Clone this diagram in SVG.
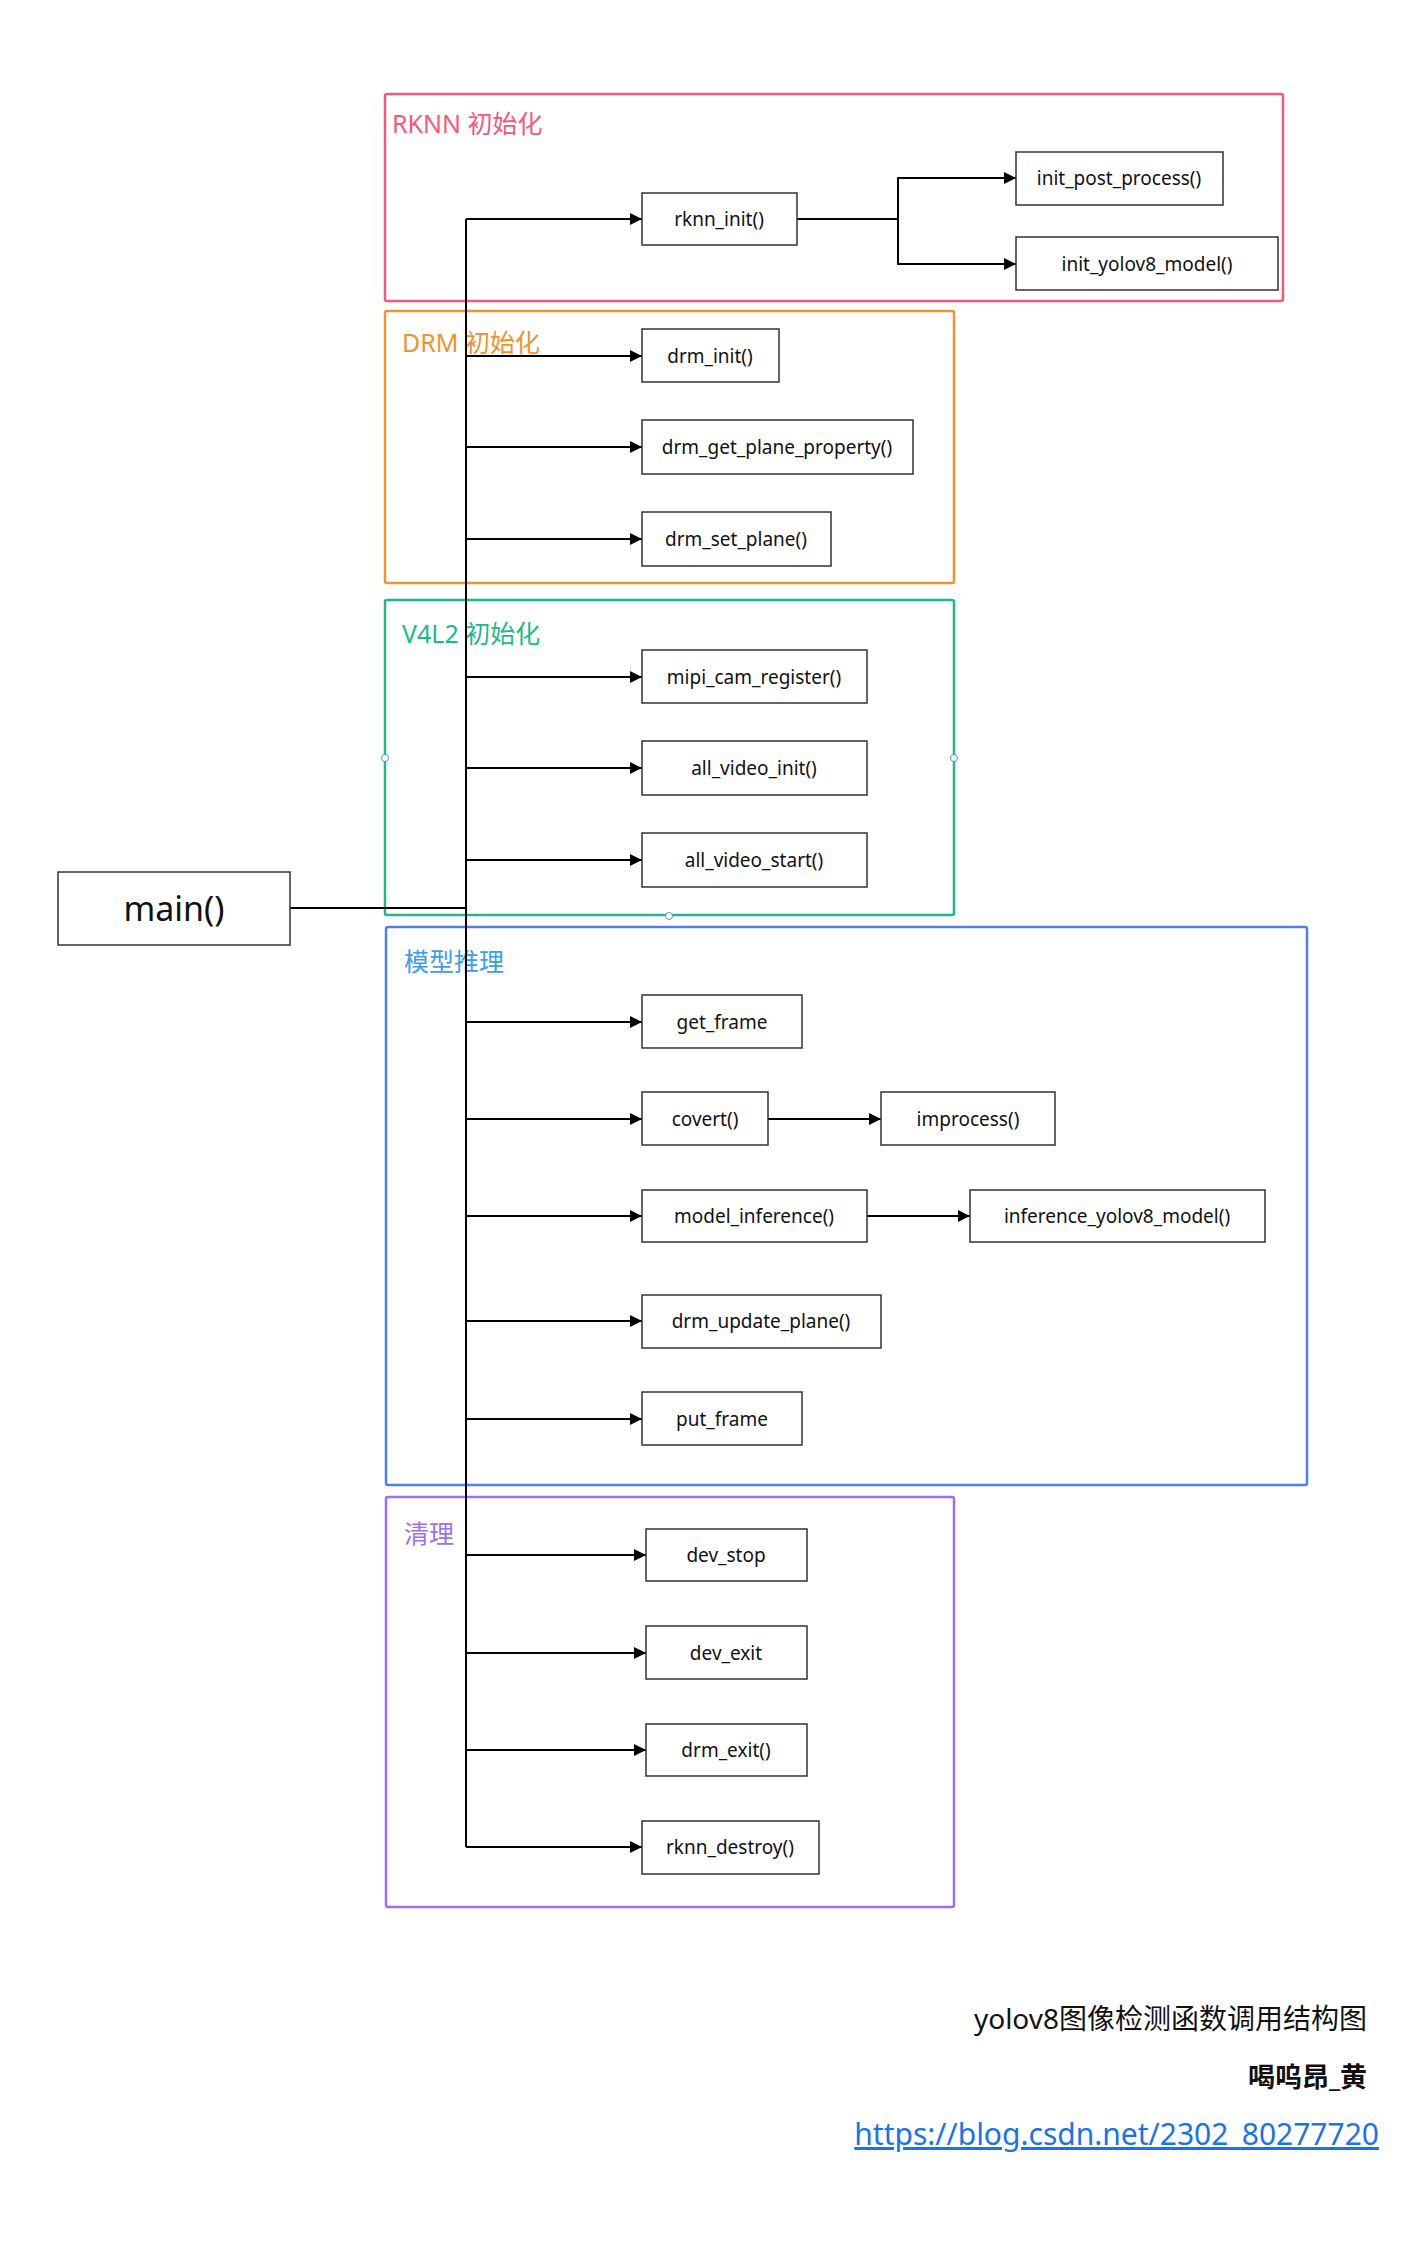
<svg xmlns="http://www.w3.org/2000/svg" width="1419" height="2265" viewBox="0 0 1419 2265">
<defs>
<marker id="ar" viewBox="0 0 10 10" refX="10" refY="5" markerWidth="6" markerHeight="6" orient="auto"><path d="M0,0L10,5L0,10z" fill="#000"/></marker>
<style>
.n rect{fill:#fff;stroke:#333;stroke-width:1.5}
.n text{font-family:"Noto Sans","Open Sans",sans-serif;font-size:19px;text-anchor:middle;dominant-baseline:central;fill:#111}
.g{fill:none;stroke-width:2.5}
.gl{font-family:"Noto Sans","Noto Sans CJK SC",sans-serif;font-size:25px}
.c{fill:none;stroke:#000;stroke-width:2}
.c .a{marker-end:url(#ar)}
</style>
</defs>
<rect width="1419" height="2265" fill="#fff"/>
<g id="groups">
<rect class="g" x="385" y="94" width="898" height="207" rx="2" stroke="#f5587b"/>
<text class="gl" x="392" y="133" fill="#f5587b">RKNN 初始化</text>
<rect class="g" x="385" y="311" width="569" height="272" rx="2" stroke="#f0922e"/>
<text class="gl" x="402" y="352" fill="#f0922e">DRM 初始化</text>
<rect class="g" x="385" y="600" width="569" height="315" rx="2" stroke="#1db98b"/>
<text class="gl" x="402" y="643" fill="#1db98b">V4L2 初始化</text>
<circle cx="385" cy="758" r="3.5" fill="#fff" stroke="#4a90f0"/>
<circle cx="954" cy="758" r="3.5" fill="#fff" stroke="#4a90f0"/>
<circle cx="669" cy="916" r="3.5" fill="#fff" stroke="#4a90f0"/>
<rect class="g" x="386" y="927" width="921" height="558" rx="2" stroke="#4e7ff0"/>
<text class="gl" x="404" y="971" fill="#3d9cf0">模型推理</text>
<rect class="g" x="386" y="1497" width="568" height="410" rx="2" stroke="#9c70f0"/>
<text class="gl" x="404" y="1543" fill="#9c70f0">清理</text>
</g>
<g id="connectors" class="c">
<path d="M290 908H466"/>
<path d="M466 219V1847"/>
<path class="a" d="M466 219H642"/>
<path d="M797 219H898"/>
<path class="a" d="M898 219V178H1016"/>
<path class="a" d="M898 219V264H1016"/>
<path class="a" d="M466 356H642"/>
<path class="a" d="M466 447H642"/>
<path class="a" d="M466 539H642"/>
<path class="a" d="M466 677H642"/>
<path class="a" d="M466 768H642"/>
<path class="a" d="M466 860H642"/>
<path class="a" d="M466 1022H642"/>
<path class="a" d="M466 1119H642"/>
<path class="a" d="M768 1119H881"/>
<path class="a" d="M466 1216H642"/>
<path class="a" d="M867 1216H970"/>
<path class="a" d="M466 1321H642"/>
<path class="a" d="M466 1419H642"/>
<path class="a" d="M466 1555H646"/>
<path class="a" d="M466 1653H646"/>
<path class="a" d="M466 1750H646"/>
<path class="a" d="M466 1847H642"/>
</g>
<g id="main" class="n"><rect x="58" y="872" width="232" height="73"/><text x="174" y="908" style="font-size:34px">main()</text></g>
<g id="rknn_init" class="n"><rect x="642" y="193" width="155" height="52"/><text x="719" y="219">rknn_init()</text></g>
<g id="init_post_process" class="n"><rect x="1016" y="152" width="207" height="53"/><text x="1119" y="178">init_post_process()</text></g>
<g id="init_yolov8_model" class="n"><rect x="1016" y="237" width="262" height="53"/><text x="1147" y="264">init_yolov8_model()</text></g>
<g id="drm_init" class="n"><rect x="642" y="329" width="137" height="53"/><text x="710" y="356">drm_init()</text></g>
<g id="drm_get_plane_property" class="n"><rect x="642" y="420" width="271" height="54"/><text x="777" y="447">drm_get_plane_property()</text></g>
<g id="drm_set_plane" class="n"><rect x="642" y="512" width="189" height="54"/><text x="736" y="539">drm_set_plane()</text></g>
<g id="mipi_cam_register" class="n"><rect x="642" y="650" width="225" height="53"/><text x="754" y="677">mipi_cam_register()</text></g>
<g id="all_video_init" class="n"><rect x="642" y="741" width="225" height="54"/><text x="754" y="768">all_video_init()</text></g>
<g id="all_video_start" class="n"><rect x="642" y="833" width="225" height="54"/><text x="754" y="860">all_video_start()</text></g>
<g id="get_frame" class="n"><rect x="642" y="995" width="160" height="53"/><text x="722" y="1022">get_frame</text></g>
<g id="covert" class="n"><rect x="642" y="1092" width="126" height="53"/><text x="705" y="1119">covert()</text></g>
<g id="improcess" class="n"><rect x="881" y="1092" width="174" height="53"/><text x="968" y="1119">improcess()</text></g>
<g id="model_inference" class="n"><rect x="642" y="1190" width="225" height="52"/><text x="754" y="1216">model_inference()</text></g>
<g id="inference_yolov8_model" class="n"><rect x="970" y="1190" width="295" height="52"/><text x="1117" y="1216">inference_yolov8_model()</text></g>
<g id="drm_update_plane" class="n"><rect x="642" y="1295" width="239" height="53"/><text x="761" y="1321">drm_update_plane()</text></g>
<g id="put_frame" class="n"><rect x="642" y="1392" width="160" height="53"/><text x="722" y="1419">put_frame</text></g>
<g id="dev_stop" class="n"><rect x="646" y="1529" width="161" height="52"/><text x="726" y="1555">dev_stop</text></g>
<g id="dev_exit" class="n"><rect x="646" y="1626" width="161" height="53"/><text x="726" y="1653">dev_exit</text></g>
<g id="drm_exit" class="n"><rect x="646" y="1724" width="161" height="52"/><text x="726" y="1750">drm_exit()</text></g>
<g id="rknn_destroy" class="n"><rect x="642" y="1821" width="177" height="53"/><text x="730" y="1847">rknn_destroy()</text></g>
<g id="footer" font-family="Noto Sans,Noto Sans CJK SC,sans-serif" text-anchor="end">
<text x="1367" y="2029" font-size="28" fill="#111">yolov8图像检测函数调用结构图</text>
<text x="1367" y="2087" font-size="27" font-weight="bold" fill="#111">喝呜昂_黄</text>
<text x="1379" y="2145" font-size="30" fill="#1a73e8" text-decoration="underline">https://blog.csdn.net/2302_80277720</text>
</g>
</svg>
